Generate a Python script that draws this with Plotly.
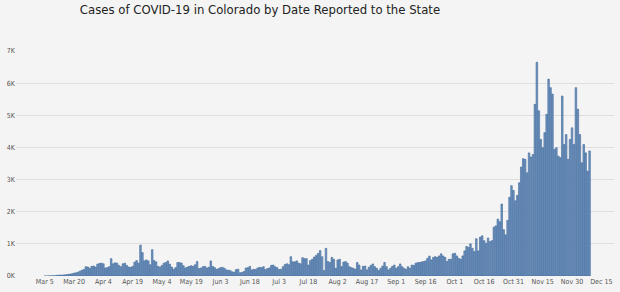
import pandas as pd
import plotly.graph_objects as go

start_date = "2020-03-05"
cases = [
    1, 2, 3, 5, 8,
    10, 20, 25, 30, 30, 35, 40, 50, 60, 70,
    90, 100, 120, 150, 180, 200, 290, 280, 240, 300, 310, 280, 370, 390, 400,
    380, 250, 260, 290, 540, 380, 410, 400, 330, 290, 380, 400, 330, 280, 270,
    300, 430, 480, 400, 960, 730, 470, 500, 470, 350, 820, 480, 440, 300, 280,
    330, 400, 420, 470, 370, 280, 210, 260,
    420, 420, 400, 320, 250, 280, 300, 320, 300, 350, 450, 230,
    250, 290, 300, 250, 270, 470, 300, 260, 210, 230, 260, 270, 240, 190, 180, 170, 130, 120, 200, 210,
    100, 110, 140, 250, 260, 300, 190, 210, 200, 250, 270, 260, 290, 200, 230, 250, 330, 340, 290, 260,
    200, 210, 290, 360, 380, 350, 600, 440, 440, 470, 400, 380, 570, 540, 540,
    340, 480, 520, 590, 640, 700, 790, 600, 170, 860, 450, 420, 580, 520, 240,
    500, 520, 290, 430, 450, 400, 290, 260, 240, 210, 420, 340, 190, 300, 310, 190, 270, 330, 375, 290,
    240, 170, 240, 310, 420, 290, 190, 240, 300, 340, 240, 290, 375, 290, 240, 210, 290, 240, 340, 330,
    400, 420, 420, 440, 450, 470, 550, 620, 500, 580, 600,
    580, 625, 690, 625, 580, 450, 520, 520, 690, 710, 625, 550, 520, 625, 780, 920, 890, 1000, 860, 760,
    1160, 780, 1210, 1250, 1100, 1020, 1180, 1070, 1100, 1520, 1560, 1770, 1690, 2240, 1440, 1280, 1730, 2450, 2810, 2660,
    2340, 2510, 2900, 3390, 3650, 3630, 3210, 3830, 3700, 3780, 5340, 6650, 5140, 4250, 3990, 4460, 5030, 6125, 5860, 5660,
    3940, 3990, 3730, 3680, 5600, 4090, 4400, 3630, 4250, 4610, 4090, 5860, 5190, 4400, 3520, 4090, 3830, 3260, 3890,
]
dates = pd.date_range(start_date, periods=len(cases), freq="D")

x_tick_dates = pd.date_range("2020-03-05", "2020-12-15", freq="15D")
x_tick_labels = ["Mar 5", "Mar 20", "Apr 4", "Apr 19", "May 4", "May 19", "Jun 3",
                 "Jun 18", "Jul 3", "Jul 18", "Aug 2", "Aug 17", "Sep 1", "Sep 16",
                 "Oct 1", "Oct 16", "Oct 31", "Nov 15", "Nov 30", "Dec 15"]
y_tick_vals = [0, 1000, 2000, 3000, 4000, 5000, 6000, 7000]
y_tick_labels = ["0K", "1K", "2K", "3K", "4K", "5K", "6K", "7K"]

title = "Cases of COVID-19 in Colorado by Date Reported to the State"
font_family = "DejaVu Sans Condensed, Liberation Sans Narrow, sans-serif"

fig = go.Figure(go.Bar(
    x=dates, y=cases,
    marker=dict(color="#7095c3", line=dict(color="#3d6797", width=0.6)),
))

fig.update_layout(
    width=620, height=292,
    margin=dict(l=16, r=6, t=51, b=16),
    paper_bgcolor="#f4f4f4", plot_bgcolor="#f4f4f4",
    bargap=0.2,
    showlegend=False,
    title=dict(text=title, x=260/620, xanchor="center", xref="container",
               y=1 - 9.5/292, yanchor="middle",
               font=dict(family=font_family, size=13, color="#222222")),
    font=dict(family=font_family, size=7, color="#555555"),
)
fig.update_xaxes(
    range=[pd.Timestamp("2020-02-19 06:00"), pd.Timestamp("2020-12-21 12:00")],
    tickvals=x_tick_dates, ticktext=x_tick_labels,
    showgrid=False, zeroline=False, showline=False, ticks="",
    tickfont=dict(size=7, color="#555555"),
)
fig.update_yaxes(
    range=[0, 7000],
    tickvals=y_tick_vals, ticktext=y_tick_labels,
    showgrid=True, gridcolor="#dedede", gridwidth=1, zeroline=False,
    ticks="", tickfont=dict(size=7, color="#555555"),
)

fig.write_html("out.html")
